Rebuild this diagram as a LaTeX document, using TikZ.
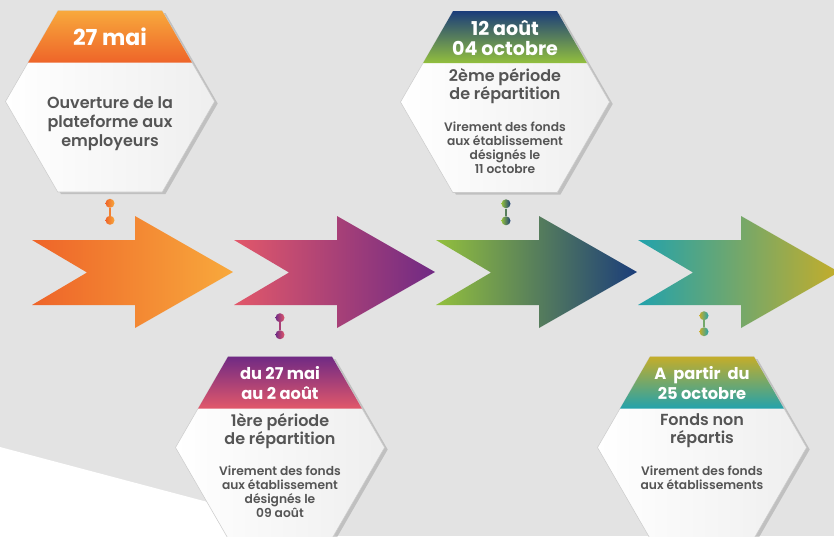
\documentclass[tikz,border=0pt]{standalone}
\usepackage{fontspec}
\setmainfont{Poppins}[BoldFont={Poppins SemiBold}]
\newfontfamily\hdfont{Poppins}
\usetikzlibrary{calc}
\usetikzlibrary{positioning}
\usetikzlibrary{shapes.geometric}
\usetikzlibrary{shadows}

\definecolor{bggray}{HTML}{E3E3E3}
\definecolor{txtgray}{HTML}{555555}
\definecolor{orA}{HTML}{EE6429}
\definecolor{orB}{HTML}{F8A93C}
\definecolor{puA}{HTML}{E2586A}
\definecolor{puB}{HTML}{702A84}
\definecolor{grA}{HTML}{93C03D}
\definecolor{grB}{HTML}{1B3D7A}
\definecolor{teA}{HTML}{22A2AC}
\definecolor{teB}{HTML}{C4AD2A}

\tikzset{
  every picture/.style={font=\bfseries, line join=miter},
  dot/.style={circle, inner sep=0pt, minimum size=6.75pt}}

\begin{document}
\begin{tikzpicture}[x=0.75pt, y=-0.75pt,
    hex/.style={regular polygon, regular polygon sides=6,
      minimum size=156.75pt, inner sep=0pt, draw=gray!40, line width=0.4pt,
      left color=white, right color=gray!13,
      drop shadow={shadow xshift=2.4pt, shadow yshift=-1.5pt, opacity=0.35}},
    hdtxt/.style={white, align=center, font=\hdfont\bfseries\fontsize{14.3}{14.8}\selectfont},
    hdsml/.style={hdtxt, font=\hdfont\bfseries\fontsize{12.2}{14.8}\selectfont},
    ttltxt/.style={txtgray, align=center, font=\bfseries\fontsize{12}{13.6}\selectfont},
    smltxt/.style={txtgray, align=center, font=\bfseries\fontsize{9.2}{10.5}\selectfont},
    link/.style={line width=1.5pt}]

    \useasboundingbox (0,0) rectangle (834,536);
    \fill[bggray] (0,0) rectangle (834,536);
    \fill[white] (0,447) -- (336,536) -- (0,536) -- cycle;

    % arrows
    \shade[left color=orA, right color=orB] (32,240) -- ++(103,0) -- ++(0,-24)
      -- ++(98,56) -- ++(-98,56) -- ++(0,-23) -- ++(-103,0) -- ++(55,-32.5) -- cycle;
    \shade[left color=puA, right color=puB] (234,240) -- ++(103,0) -- ++(0,-24)
      -- ++(98,56) -- ++(-98,56) -- ++(0,-23) -- ++(-103,0) -- ++(55,-32.5) -- cycle;
    \shade[left color=grA, right color=grB] (436,240) -- ++(103,0) -- ++(0,-24)
      -- ++(98,56) -- ++(-98,56) -- ++(0,-23) -- ++(-103,0) -- ++(55,-32.5) -- cycle;
    \shade[left color=teA, right color=teB] (638,240) -- ++(103,0) -- ++(0,-24)
      -- ++(98,56) -- ++(-98,56) -- ++(0,-23) -- ++(-103,0) -- ++(55,-32.5) -- cycle;

    % hexagons
    \node[hex] (H1) at (110,101.5) {};
    \node[hex] (H2) at (505,102) {};
    \node[hex] (H3) at (280,447.5) {};
    \node[hex] (H4) at (702,447.5) {};

    % header bands
    \shade[top color=orB, bottom color=orA] ($(H1.north)+(-52,0)$) -- ($(H1.north)+(52,0)$)
      -- ($(H1.north)+(82,52)$) -- ($(H1.north)+(-82,52)$) -- cycle;
    \shade[top color=grB, bottom color=grA] ($(H2.north)+(-52,0)$) -- ($(H2.north)+(52,0)$)
      -- ($(H2.north)+(82,52)$) -- ($(H2.north)+(-82,52)$) -- cycle;
    \shade[top color=puB, bottom color=puA] ($(H3.north)+(-52,0)$) -- ($(H3.north)+(52,0)$)
      -- ($(H3.north)+(82,52)$) -- ($(H3.north)+(-82,52)$) -- cycle;
    \shade[top color=teB, bottom color=teA] ($(H4.north)+(-52,0)$) -- ($(H4.north)+(52,0)$)
      -- ($(H4.north)+(82,52)$) -- ($(H4.north)+(-82,52)$) -- cycle;

    \node[hdtxt, font=\hdfont\bfseries\fontsize{16.5}{17}\selectfont] (D1) at ($(H1.north)+(0,26)$) {27 mai};
    \node[ttltxt, font=\bfseries\fontsize{12}{14}\selectfont] (T1) at ($(H1.north)+(0,113)$)
      {Ouverture de la\\plateforme aux\\employeurs};

    \node[hdtxt] (D2) at ($(H2.north)+(0,27)$) {12 août\\04 octobre};
    \node[ttltxt] (T2) at ($(H2.north)+(0,75)$) {2ème période\\de répartition};
    \node[smltxt] (S2) at ($(H2.north)+(0,137)$)
      {Virement des fonds\\aux établissement\\désignés le\\11 octobre};

    \node[hdsml] (D3) at ($(H3.north)+(0,26)$) {du 27 mai\\au 2 août};
    \node[ttltxt] (T3) at ($(H3.north)+(0,74)$) {1ère période\\de répartition};
    \node[smltxt] (S3) at ($(H3.north)+(0,135)$)
      {Virement des fonds\\aux établissement\\désignés le\\09 août};

    \node[hdsml] (D4) at ($(H4.north)+(0,26)$) {A~ partir~ du\\25 octobre};
    \node[ttltxt] (T4) at ($(H4.north)+(0,74)$) {Fonds non\\répartis};
    \node[smltxt] (S4) at ($(H4.north)+(0,121)$)
      {Virement des fonds\\aux établissements};

    % connector dots
    \node[dot, left color=orA, right color=orB] (P1a) at ($(H1.south)+(0,11)$) {};
    \node[dot, left color=orA, right color=orB] (P1b) at ($(H1.south)+(0,28)$) {};
    \node[dot, left color=grA, right color=grB] (P2a) at ($(H2.south)+(1,11)$) {};
    \node[dot, left color=grA, right color=grB] (P2b) at ($(H2.south)+(1,28)$) {};
    \node[dot, left color=puB, right color=puA] (P3a) at ($(H3.north)+(0,-39)$) {};
    \node[dot, left color=puB, right color=puA] (P3b) at ($(H3.north)+(0,-22)$) {};
    \node[dot, left color=teB, right color=teA] (P4a) at ($(H4.north)+(2,-41)$) {};
    \node[dot, left color=teB, right color=teA] (P4b) at ($(H4.north)+(2,-25)$) {};

    \draw[link, orA!60!orB] (P1a) -- (P1b);
    \draw[link, grA!50!grB] (P2a) -- (P2b);
    \draw[link, puA!50!puB] (P3a) -- (P3b);
    \draw[link, teA!50!teB] (P4a) -- (P4b);
\end{tikzpicture}
\end{document}
